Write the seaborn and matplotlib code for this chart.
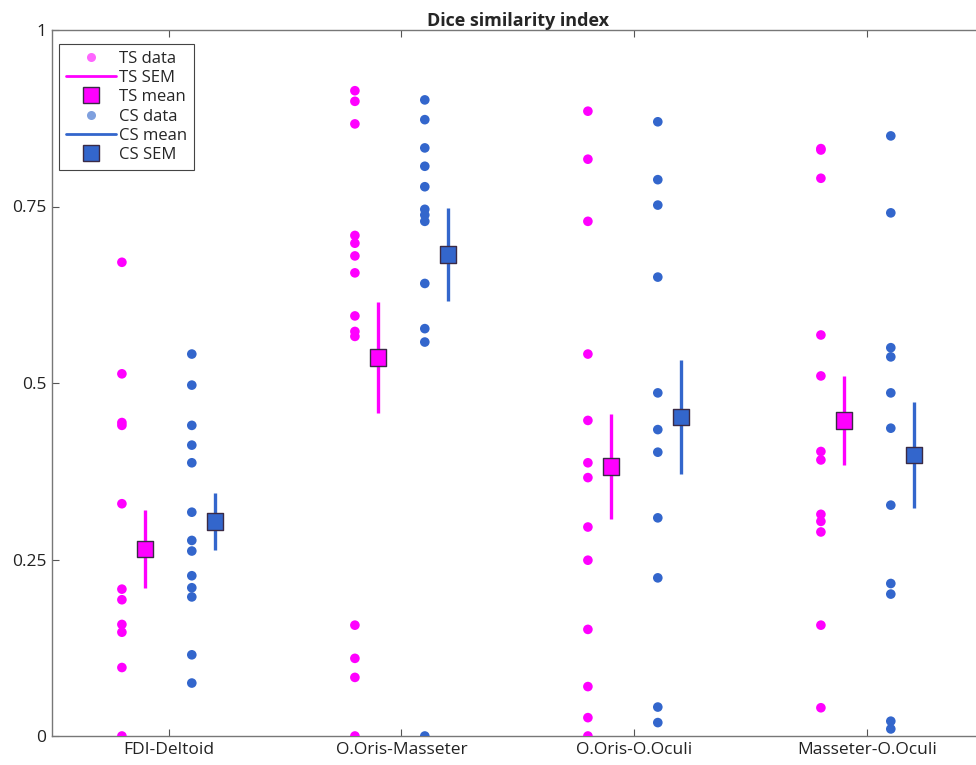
import numpy as np
import pandas as pd
import matplotlib
matplotlib.use("Agg")
import matplotlib.pyplot as plt
import seaborn as sns
from matplotlib.lines import Line2D

categories = ["FDI-Deltoid", "O.Oris-Masseter", "O.Oris-O.Oculi", "Masseter-O.Oculi"]

ts_data = [
    [0.671, 0.513, 0.444, 0.440, 0.329, 0.208, 0.193, 0.158, 0.147, 0.097, 0.0],
    [0.914, 0.899, 0.867, 0.709, 0.698, 0.680, 0.656, 0.595, 0.573, 0.566, 0.157, 0.110, 0.083, 0.0],
    [0.885, 0.817, 0.729, 0.541, 0.447, 0.387, 0.366, 0.296, 0.249, 0.151, 0.070, 0.026, 0.0],
    [0.832, 0.830, 0.790, 0.568, 0.510, 0.403, 0.391, 0.314, 0.304, 0.289, 0.157, 0.040],
]
cs_data = [
    [0.541, 0.497, 0.440, 0.412, 0.387, 0.317, 0.277, 0.262, 0.227, 0.210, 0.197, 0.115, 0.075],
    [0.901, 0.873, 0.833, 0.807, 0.778, 0.746, 0.738, 0.729, 0.641, 0.577, 0.558, 0.0],
    [0.870, 0.788, 0.752, 0.650, 0.486, 0.434, 0.402, 0.309, 0.224, 0.041, 0.019],
    [0.850, 0.741, 0.550, 0.537, 0.486, 0.436, 0.327, 0.216, 0.201, 0.021, 0.010],
]
ts_mean = [0.265, 0.536, 0.382, 0.447]
ts_sem = [0.055, 0.079, 0.074, 0.063]
cs_mean = [0.304, 0.682, 0.452, 0.398]
cs_sem = [0.040, 0.066, 0.081, 0.075]
yticks = [0, 0.25, 0.5, 0.75, 1]
ytick_labels = ["0", "0.25", "0.5", "0.75", "1"]

TS_COLOR = "#FF00FF"
CS_COLOR = "#3366CC"

sns.set_theme(style="white")
plt.rcParams["font.family"] = ["Open Sans", "DejaVu Sans"]

rows = []
for i, cat in enumerate(categories):
    for v in ts_data[i]:
        rows.append({"pos": i + 1 - 0.2, "value": v, "group": "TS"})
    for v in cs_data[i]:
        rows.append({"pos": i + 1 + 0.1, "value": v, "group": "CS"})
df = pd.DataFrame(rows)

stats = pd.DataFrame({
    "pos": [i + 1 - 0.1 for i in range(4)] + [i + 1 + 0.2 for i in range(4)],
    "mean": ts_mean + cs_mean,
    "sem": ts_sem + cs_sem,
    "group": ["TS"] * 4 + ["CS"] * 4,
})

fig = plt.figure(figsize=(9.76, 7.65), dpi=100)
ax = fig.add_axes([52 / 976, 1 - 736 / 765, (984 - 52) / 976, (736 - 30) / 765])

palette = {"TS": TS_COLOR, "CS": CS_COLOR}
sns.scatterplot(data=df, x="pos", y="value", hue="group", palette=palette,
                s=48, linewidth=0, legend=False, ax=ax, zorder=3)

for g, c in palette.items():
    sub = stats[stats.group == g]
    ax.vlines(sub["pos"], sub["mean"] - sub["sem"], sub["mean"] + sub["sem"],
              color=c, linewidth=2.4, zorder=3)

sns.scatterplot(data=stats, x="pos", y="mean", hue="group", palette=palette,
                marker="s", s=140, edgecolor="#3a2a45", linewidth=1.0,
                legend=False, ax=ax, zorder=4)

ax.set_xlim(0.5, 4.5)
ax.set_ylim(0, 1)
ax.set_xticks(range(1, 5))
ax.set_xticklabels(categories, fontsize=12.5)
ax.set_yticks(yticks)
ax.set_yticklabels(ytick_labels, fontsize=12.5)
ax.set_xlabel("")
ax.set_ylabel("")
ax.set_title("Dice similarity index", fontsize=13, fontweight="bold", pad=3)
ax.tick_params(direction="in", length=5, width=0.8, color="#555555",
               top=True, right=True, bottom=True, left=True,
               labelcolor="#222222", pad=4)
for s in ax.spines.values():
    s.set_color("#777777")
    s.set_linewidth(1.0)

handles = [
    Line2D([], [], linestyle="none", marker="o", markersize=6.5, color="#FF66FF", markeredgewidth=0),
    Line2D([], [], color=TS_COLOR, linewidth=2),
    Line2D([], [], linestyle="none", marker="s", markersize=11, markerfacecolor=TS_COLOR, markeredgecolor="#3a2a45"),
    Line2D([], [], linestyle="none", marker="o", markersize=6.5, color="#7FA0DE", markeredgewidth=0),
    Line2D([], [], color=CS_COLOR, linewidth=2),
    Line2D([], [], linestyle="none", marker="s", markersize=11, markerfacecolor=CS_COLOR, markeredgecolor="#3a2a45"),
]
labels = ["TS data", "TS SEM", "TS mean", "CS data", "CS mean", "CS SEM"]
leg = ax.legend(handles, labels, loc="upper left", bbox_to_anchor=(0.004, 0.985),
                fontsize=12, frameon=True, fancybox=False, framealpha=1,
                edgecolor="#444444", handlelength=3.0, handletextpad=0.2,
                labelspacing=0.2, borderpad=0.4, borderaxespad=0.2)
leg.get_frame().set_linewidth(0.8)

fig.savefig("out.png", dpi=100)
